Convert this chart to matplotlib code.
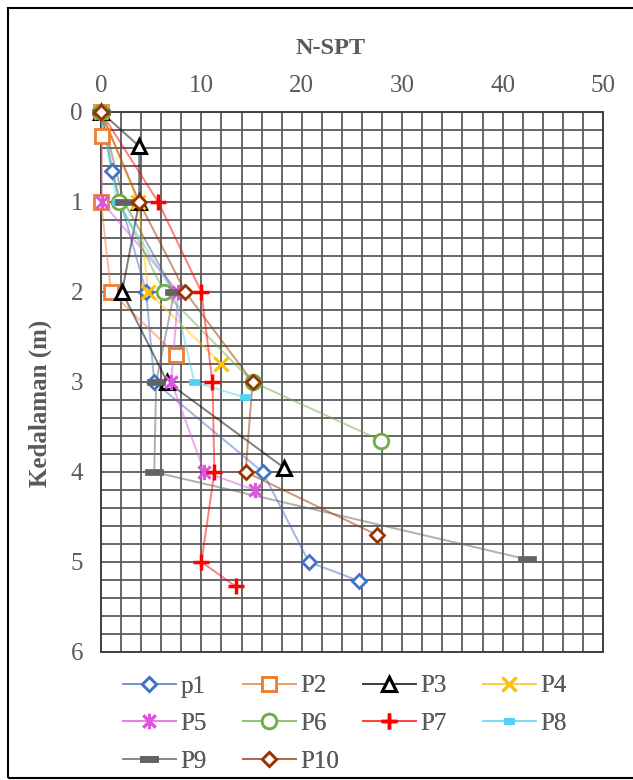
import matplotlib
matplotlib.use("Agg")
import matplotlib.pyplot as plt
import numpy as np
from matplotlib.path import Path
from matplotlib.patches import Rectangle
from matplotlib.lines import Line2D

plt.rcParams['font.family'] = ['Liberation Serif', 'DejaVu Serif']

# ---- data (N-SPT value vs depth) ----
names = ["p1", "P2", "P3", "P4", "P5", "P6", "P7", "P8", "P9", "P10"]
p1_x = [0, 1.1, 4.5, 5.3, 16.1, 20.7, 25.7]
p1_y = [0, 0.66, 2, 3, 4, 5, 5.21]
p2_x = [0, 0.1, 0, 1.0, 7.5]
p2_y = [0, 0.27, 1, 2, 2.7]
p3_x = [0, 3.8, 3.8, 2.1, 6.6, 18.2]
p3_y = [0, 0.38, 1, 2, 3, 3.95]
p4_x = [0, 3.7, 4.7, 12.0]
p4_y = [0, 1, 2, 2.8]
p5_x = [0, 0.1, 7.7, 7.0, 10.3, 15.3]
p5_y = [0, 1, 2, 3, 4, 4.2]
p6_x = [0, 1.8, 6.3, 15.1, 27.9]
p6_y = [0, 1, 2, 3, 3.65]
p7_x = [0, 5.7, 10.0, 11.1, 11.3, 10.0, 13.4]
p7_y = [0, 1, 2, 3, 4, 5, 5.27]
p8_x = [0, 1.6, 7.2, 9.3, 14.3]
p8_y = [0, 1, 2, 3, 3.17]
p9_x = [0, 2.3, 7.3, 5.5, 5.3, 42.4]
p9_y = [0, 1, 2, 3, 4, 4.97]
p10_x = [0, 3.8, 8.4, 15.1, 14.4, 27.5]
p10_y = [0, 1, 2, 3, 4, 4.7]

xs = [p1_x, p2_x, p3_x, p4_x, p5_x, p6_x, p7_x, p8_x, p9_x, p10_x]
ys = [p1_y, p2_y, p3_y, p4_y, p5_y, p6_y, p7_y, p8_y, p9_y, p10_y]

# ---- styles ----
star = Path([(-1, -1), (1, 1), (-1, 1), (1, -1), (0, -1.25), (0, 1.25)],
            [Path.MOVETO, Path.LINETO, Path.MOVETO, Path.LINETO, Path.MOVETO, Path.LINETO])
rect8 = Path([(-1, -0.6), (1, -0.6), (1, 0.6), (-1, 0.6), (-1, -0.6)],
             [Path.MOVETO, Path.LINETO, Path.LINETO, Path.LINETO, Path.CLOSEPOLY])
rect9 = Path([(-1, -0.3), (1, -0.3), (1, 0.3), (-1, 0.3), (-1, -0.3)],
             [Path.MOVETO, Path.LINETO, Path.LINETO, Path.LINETO, Path.CLOSEPOLY])

styles = [
    dict(color='#4472C4', marker='D', ms=7, mfc='white', mew=2.0),
    dict(color='#ED7D31', marker='s', ms=9.5, mfc='white', mew=2.0),
    dict(color='#000000', marker='^', ms=10, mfc='white', mew=2.2),
    dict(color='#FFC000', marker='x', ms=10, mfc='none', mew=2.2),
    dict(color='#DD55DD', marker=star, ms=11, mfc='none', mew=2.2),
    dict(color='#70AD47', marker='o', ms=10.5, mfc='white', mew=2.0),
    dict(color='#FF0000', marker='+', ms=12, mfc='none', mew=2.5),
    dict(color='#4FD2F5', marker=rect8, ms=7.5, mfc='#4FD2F5', mew=0.5),
    dict(color='#636363', marker=rect9, ms=13.5, mfc='#636363', mew=0.5),
    dict(color='#993300', marker='D', ms=7, mfc='white', mew=2.0),
]

fig = plt.figure(figsize=(6.33, 7.8), dpi=100)
ax = fig.add_axes([101/633, 1 - 652/780, (603-101)/633, (652-112)/780])

handles = []
for name, x, y, st in zip(names, xs, ys, styles):
    c = st['color']
    ax.plot(x, y, '-', color=c, alpha=0.5, lw=1.4, zorder=3)
    ax.plot(x, y, linestyle='none', marker=st['marker'], ms=st['ms'],
            mfc=st['mfc'], mec=c, mew=st['mew'], zorder=4, clip_on=False)
    hm = Line2D([0.5], [0], linestyle='none', marker=st['marker'], ms=st['ms'],
                mfc=st['mfc'], mec=c, mew=st['mew'])
    handles.append((Line2D([], [], color=c, alpha=0.5, lw=1.4), hm))

ax.set_xlim(0, 50)
ax.set_ylim(6, 0)
ax.xaxis.tick_top()
ax.set_xticks(np.arange(0, 51, 10))
ax.set_yticks(np.arange(0, 7, 1))
ax.set_xticks(np.arange(0, 51, 2), minor=True)
ax.set_yticks(np.arange(0, 6.01, 0.2), minor=True)
ax.grid(True, which='both', color='#5a5a5a', lw=1.3, zorder=1)
ax.set_axisbelow(True)
ax.tick_params(axis='both', which='both', length=0, labelsize=18, labelcolor='#595959')
ax.tick_params(axis='x', pad=11)
ax.tick_params(axis='y', pad=13)
for s in ax.spines.values():
    s.set_color('#404040')
    s.set_linewidth(1.4)

fig.text(331/633, 1 - 48/780, 'N-SPT', ha='center', va='center',
         fontsize=17.5, fontweight='bold', color='#595959')
fig.text(40/633, 1 - 403/780, 'Kedalaman (m)', ha='center', va='center',
         rotation=90, fontsize=18, fontweight='bold', color='#595959')

# legend: 4 columns laid out row-wise
cols = [[0, 4, 8], [1, 5, 9], [2, 6], [3, 7]]
col_x = [123, 243, 363, 483]
for ci, idxs in enumerate(cols):
    leg = fig.legend([handles[i] for i in idxs], [names[i] for i in idxs],
                     loc='upper left', bbox_to_anchor=(col_x[ci]/633, 1 - 675/780),
                     frameon=False, fontsize=18, handlelength=2.1, handletextpad=0.2,
                     labelspacing=0.6, borderpad=0, borderaxespad=0, labelcolor='#595959')
    fig.add_artist(leg)

fig.patches.append(Rectangle((8/633, 2/780), 1.0, 1 - 10/780, transform=fig.transFigure,
                             fill=False, edgecolor='black', lw=1.5))

fig.savefig('out.png', dpi=100)
